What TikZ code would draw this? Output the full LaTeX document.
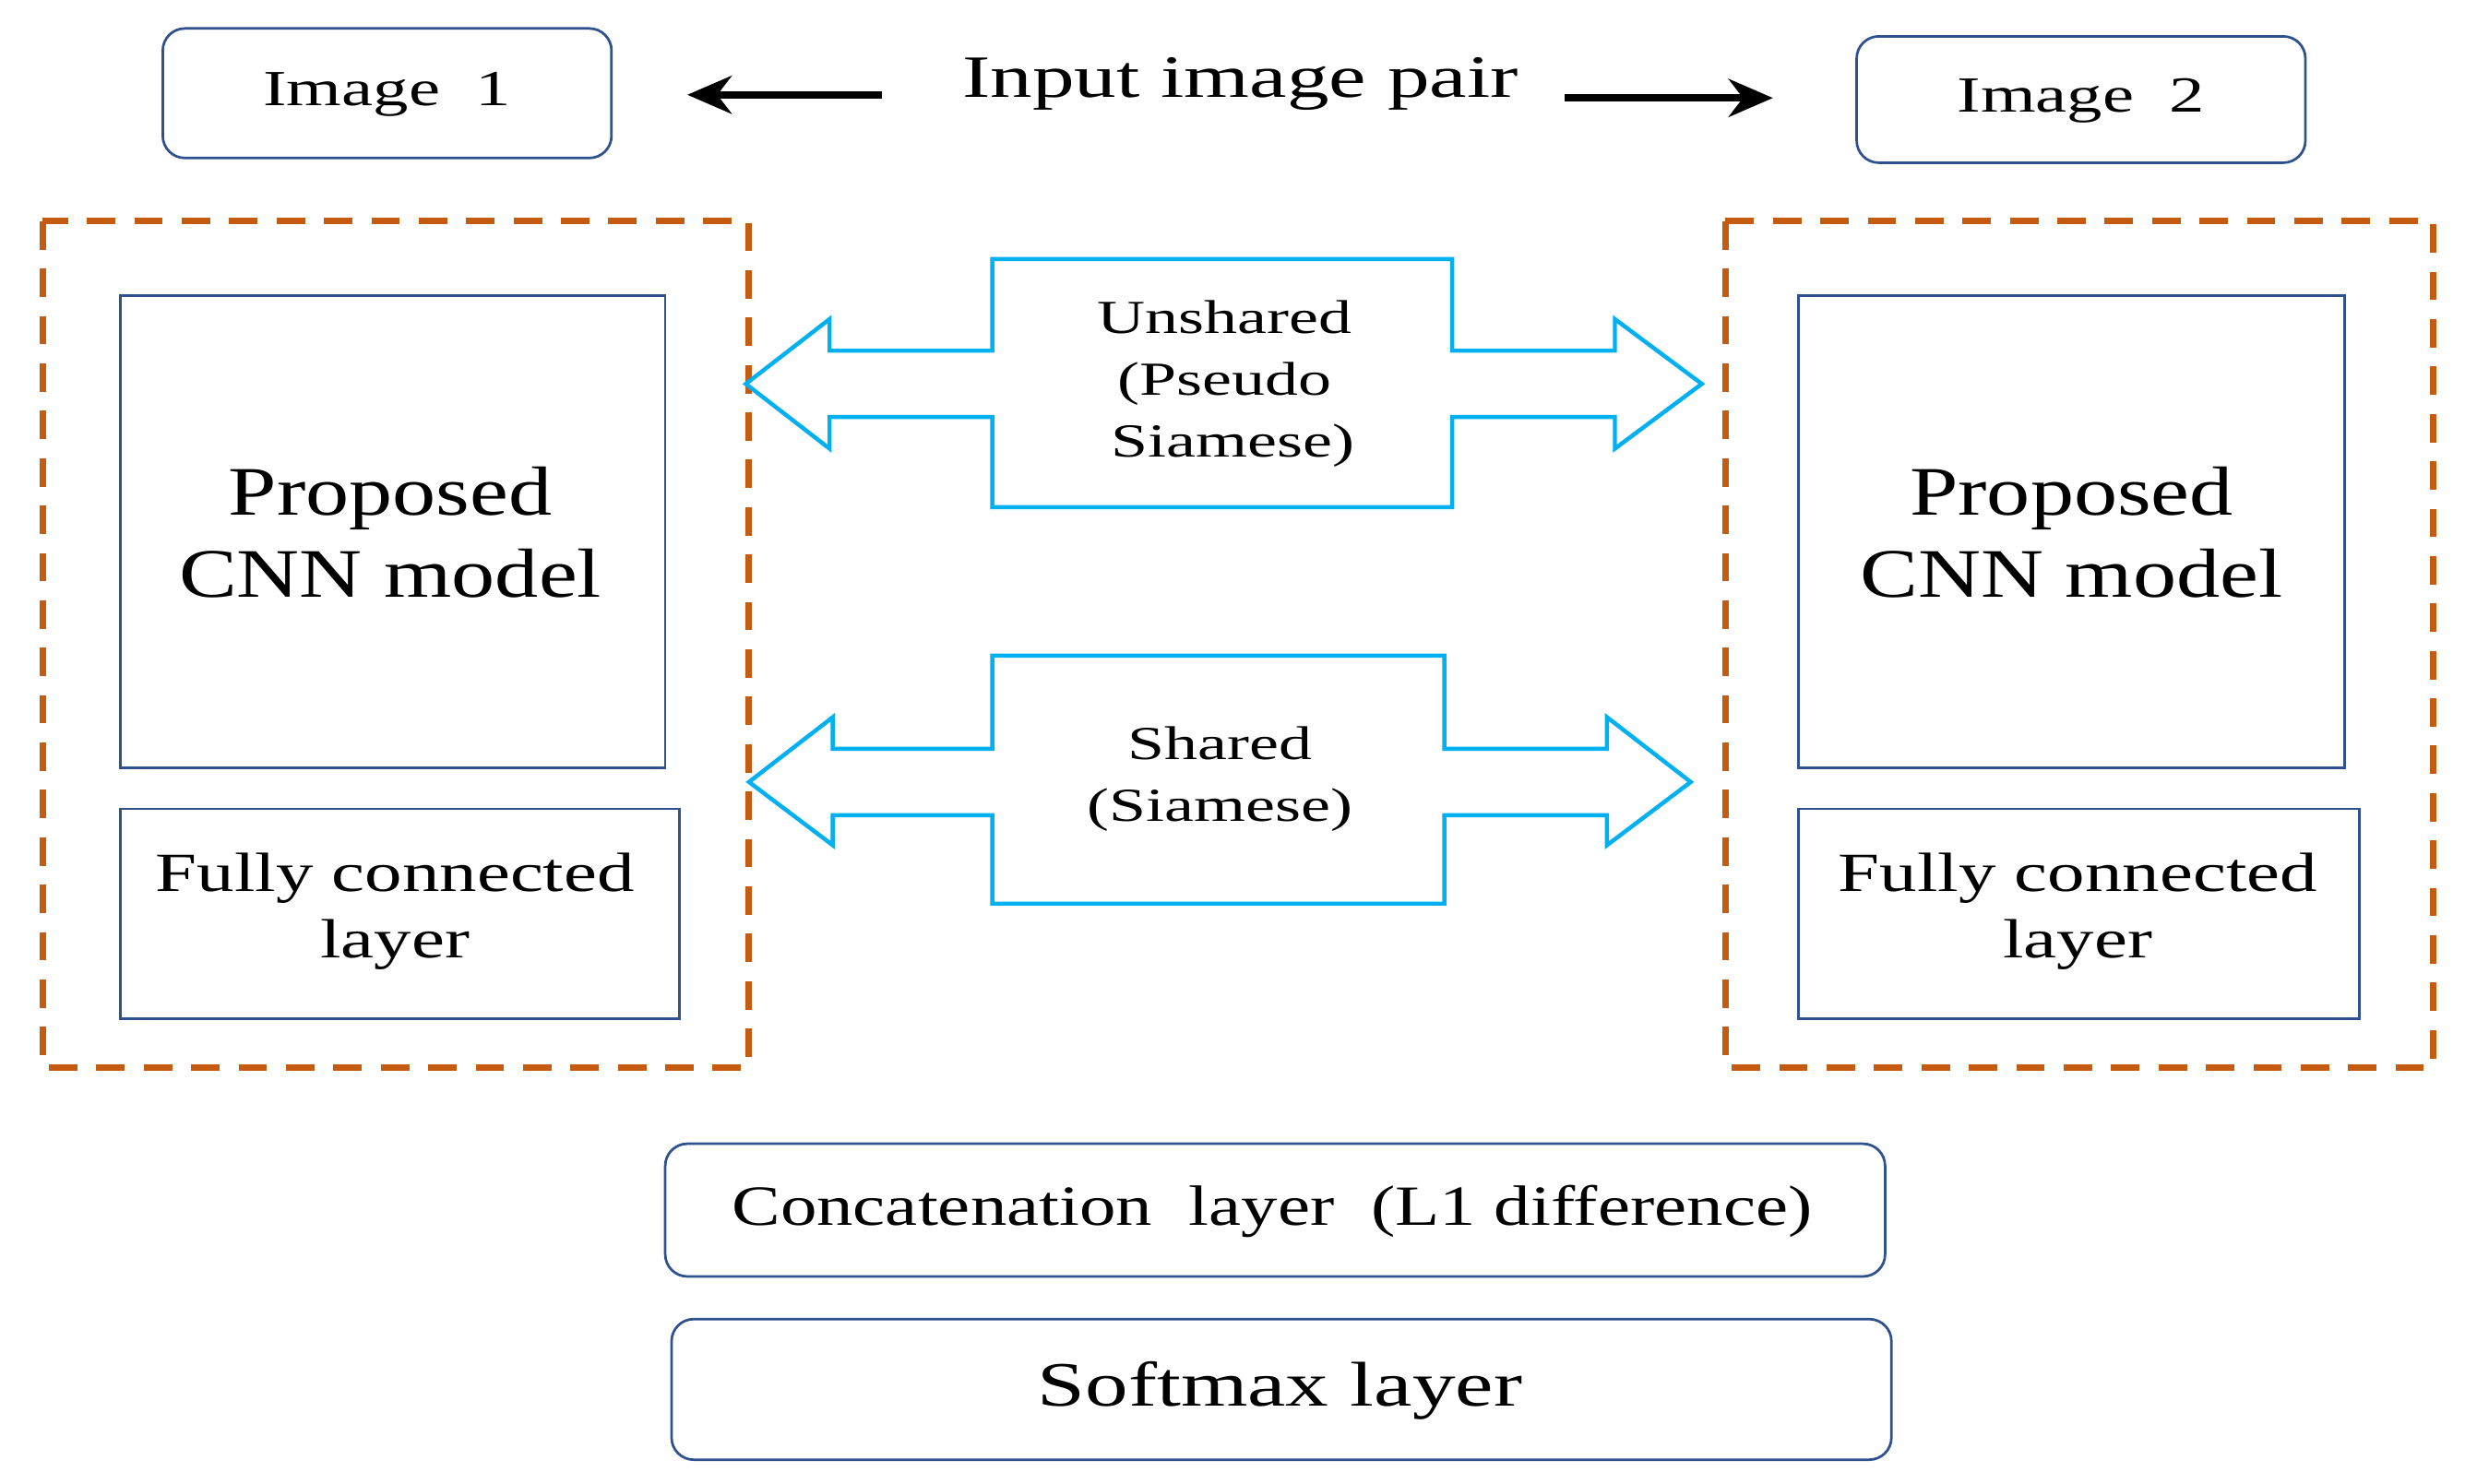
\documentclass[tikz,border=0pt]{standalone}
\usepackage{fontspec}
\usepackage{graphicx}
\setmainfont{Liberation Serif}
\usetikzlibrary{arrows.meta}
\definecolor{bx}{RGB}{47,82,143}
\definecolor{cy}{RGB}{0,176,240}
\definecolor{org}{RGB}{197,90,17}
\newcommand\wtxt[2]{\scalebox{#1}[1]{#2}}
\begin{document}
\begin{tikzpicture}[x=0.5pt,y=-0.5pt,
  rbox/.style={draw=bx,line width=0.8pt,rounded corners=7pt},
  sbox/.style={draw=bx,line width=0.8pt},
  dbox/.style={draw=org,line width=2pt,dash pattern=on 9pt off 6pt},
  carrow/.style={draw=cy,line width=1.3pt,fill=white},
  blk/.style={-{Stealth[length=14pt,width=12pt]},line width=2.2pt}]
\useasboundingbox (0,0) rectangle (1560,939);
\draw[rbox] (103,18) rectangle (387,100);
\node[font=\fontsize{16}{18}\selectfont] (i1) at (245,60) {\wtxt{1.4}{Image\ \ 1}};
\draw[rbox] (1175,23) rectangle (1459,103);
\node[font=\fontsize{16}{18}\selectfont] (i2) at (1317,64) {\wtxt{1.4}{Image\ \ 2}};
\node[font=\fontsize{19}{22}\selectfont] (ip) at (785,53) {\wtxt{1.4}{Input image pair}};
\coordinate (la) at (435,60); \coordinate (ra) at (1122,62);
\draw[blk] (558,60) -- (la);
\draw[blk] (990,62) -- (ra);
\draw[dbox] (27,140) rectangle (474,676);
\draw[dbox] (1092,140) rectangle (1540,676);
\draw[sbox] (76,187) rectangle (421,486);
\node[align=center,font=\fontsize{22}{26}\selectfont] (c1) at (247,337) {\wtxt{1.25}{Proposed}\\\wtxt{1.25}{CNN model}};
\draw[sbox] (1138,187) rectangle (1484,486);
\node[align=center,font=\fontsize{22}{26}\selectfont] (c2) at (1311,337) {\wtxt{1.25}{Proposed}\\\wtxt{1.25}{CNN model}};
\draw[sbox] (76,512) rectangle (430,645);
\node[align=center,font=\fontsize{17.5}{21}\selectfont] (f1) at (250,577) {\wtxt{1.35}{Fully connected}\\\wtxt{1.35}{layer}};
\draw[sbox] (1138,512) rectangle (1493,645);
\node[align=center,font=\fontsize{17.5}{21}\selectfont] (f2) at (1315,577) {\wtxt{1.35}{Fully connected}\\\wtxt{1.35}{layer}};
\draw[carrow] (472,243) -- (525,202) -- (525,222) -- (628,222) -- (628,164) -- (919,164) -- (919,222) -- (1022,222) -- (1022,202) -- (1077,243) -- (1022,284) -- (1022,264) -- (919,264) -- (919,321) -- (628,321) -- (628,264) -- (525,264) -- (525,284) -- cycle;
\node[align=center,font=\fontsize{15}{19.5}\selectfont] (u) at (775,243) {\wtxt{1.4}{Unshared}\\\wtxt{1.4}{(Pseudo}\\\wtxt{1.4}{\ Siamese)}};
\draw[carrow] (474,495) -- (527,454) -- (527,474) -- (628,474) -- (628,415) -- (914,415) -- (914,474) -- (1017,474) -- (1017,454) -- (1070,495) -- (1017,535) -- (1017,516) -- (914,516) -- (914,572) -- (628,572) -- (628,516) -- (527,516) -- (527,535) -- cycle;
\node[align=center,font=\fontsize{15}{19.5}\selectfont] (s) at (772,493) {\wtxt{1.4}{Shared}\\\wtxt{1.4}{(Siamese)}};
\draw[rbox] (421,724) rectangle (1193,808);
\node[font=\fontsize{18}{21}\selectfont] (cc) at (805,767) {\wtxt{1.28}{Concatenation\ \ layer\ \ (L1\ difference)}};
\draw[rbox] (425,835) rectangle (1197,924);
\node[font=\fontsize{20}{23}\selectfont] (sm) at (810,880) {\wtxt{1.36}{Softmax layer}};
\end{tikzpicture}
\end{document}
